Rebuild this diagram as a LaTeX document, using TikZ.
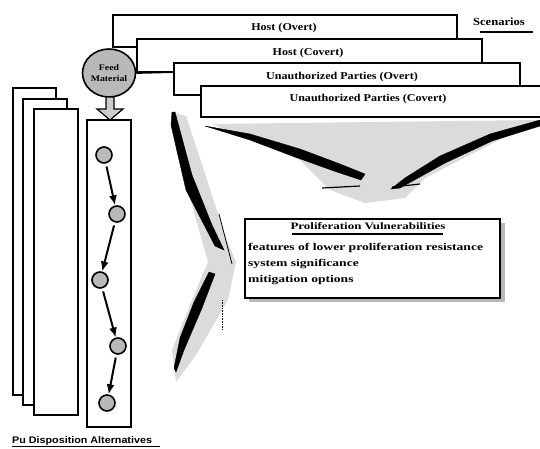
\documentclass[tikz,border=0pt]{standalone}
\usepackage{fontspec}
\setmainfont[FakeStretch=1.15]{Liberation Serif}
\newfontfamily\wideserif[FakeStretch=1.32]{Liberation Serif}
\newfontfamily\widesans[FakeStretch=1.12]{Liberation Sans}
\usetikzlibrary{arrows.meta,shapes.geometric}
\begin{document}
\begin{tikzpicture}[x=1pt,y=-1pt,
  scen/.style={draw=black,line width=2pt,fill=white},
  lbl/.style={font=\fontsize{10.5}{12}\selectfont\bfseries,inner sep=0pt},
  item/.style={font=\wideserif\fontsize{10.3}{12}\selectfont\bfseries,inner sep=0pt,anchor=west},
  page/.style={draw=black,line width=2pt,fill=white},
  pnode/.style={circle,draw=black,line width=1.6pt,fill=gray!55,minimum size=16pt,inner sep=0pt},
  flow/.style={line width=2pt,-{Latex[length=10pt,width=8pt]},shorten >=0pt,shorten <=3pt},
  ribbon/.style={fill=gray!28,draw=none},
  stroke/.style={fill=black,draw=black,line width=0.4pt}
]
\useasboundingbox (0,0) rectangle (540,448);
\fill[white] (0,0) rectangle (540,448);

% --- big converging arrows (behind) ---
\fill[ribbon] (212,124) -- (538,120) -- (425,178) -- (405,198) -- (365,203) -- (330,190) -- (300,160) -- cycle;
\fill[stroke] (205,126) -- (250,134) -- (300,149) -- (340,164) -- (365,174) -- (361,180) -- (334,171) -- (295,157) -- (250,140) -- cycle;
\fill[stroke] (540,120) -- (490,134) -- (440,156) -- (405,178) -- (391,189) -- (400,188) -- (445,163) -- (492,141) -- (540,126) -- cycle;
\draw[line width=1.2pt] (322,188) -- (360,186);
\draw[line width=1.2pt] (392,187) -- (420,184);

\fill[ribbon] (172,112) -- (186,116) -- (226,238) -- (236,262) -- (228,300) -- (196,355) -- (176,382) -- (172,350) -- (192,300) -- (208,262) -- (192,205) -- (176,150) -- cycle;
\fill[stroke] (172,112) -- (175,112) -- (192,175) -- (212,225) -- (224,250) -- (215,246) -- (186,190) -- (171,125) -- cycle;
\draw[line width=0.8pt] (219,214) -- (232,264);
\fill[stroke] (209,272) -- (215,274) -- (202,308) -- (184,350) -- (176,372) -- (174,368) -- (180,338) -- (194,302) -- cycle;
\draw[line width=0.6pt,densely dotted] (222,300) -- (222,330);

% --- scenario boxes ---
\draw[scen] (113,15) rectangle (457,47);
\node[lbl] (hovert) at (284,28) {Host (Overt)};
\draw[scen] (137,39) rectangle (482,72);
\node[lbl] (hcovert) at (308,53) {Host (Covert)};
\draw[scen] (174,63) rectangle (520,95);
\node[lbl] (uovert) at (342,77) {Unauthorized Parties (Overt)};
\draw[scen] (201,86) rectangle (545,117);
\node[lbl] (ucovert) at (368,99) {Unauthorized Parties (Covert)};

\node[lbl,anchor=west,font=\fontsize{10.9}{12}\selectfont\bfseries] (scen) at (473,22) {Scenarios};
\draw[line width=2pt] (480,31.5) -- (533,31.5);

% --- stacked pages ---
\draw[page] (13,88) rectangle (56,395);
\draw[page] (23,99) rectangle (67,405);
\draw[page] (34,109) rectangle (78,415);

% --- alternative column ---
\draw[page] (87,120) rectangle (131,427);

% --- feed material ---
\node[ellipse,draw=black,line width=1.6pt,fill=gray!55,minimum width=53pt,minimum height=48pt,inner sep=0pt,
      font=\fontsize{8.5}{11}\selectfont\bfseries,align=center] (feed) at (109,73) {Feed\\Material};
\coordinate (feedjoin) at (174,72);
\draw[line width=1.8pt] (feed.east) -- (feedjoin);
\draw[line width=1.2pt,fill=gray!40] (106,97) -- (114,97) -- (114,109) -- (123,109) -- (110,120) -- (97,109) -- (106,109) -- cycle;

% --- alternative nodes ---
\node[pnode] (n1) at (104,155) {};
\node[pnode] (n2) at (117,214) {};
\node[pnode] (n3) at (100,280) {};
\node[pnode] (n4) at (118,346) {};
\node[pnode] (n5) at (107,403) {};
\draw[flow] (n1) -- (n2);
\draw[flow] (n2) -- (n3);
\draw[flow] (n3) -- (n4);
\draw[flow] (n4) -- (n5);

\node[inner sep=0pt,anchor=base west,font=\widesans\fontsize{9.6}{11}\selectfont\bfseries] (pu) at (12,443) {Pu Disposition Alternatives};
\draw[line width=1.2pt] (12,446.5) -- (160,446.5);

% --- proliferation vulnerabilities ---
\fill[gray!55] (249,223) rectangle (505,302);
\draw[line width=2pt,fill=white] (245,219) rectangle (500,298);
\node[lbl,font=\wideserif\fontsize{9.8}{12}\selectfont\bfseries] (pv) at (368,226) {Proliferation Vulnerabilities};
\draw[line width=2pt] (292,234) -- (443,234);
\node[item] (f1) at (248,248) {features of lower proliferation resistance};
\node[item] (f2) at (248,264) {system significance};
\node[item] (f3) at (248,280) {mitigation options};
\end{tikzpicture}
\end{document}
